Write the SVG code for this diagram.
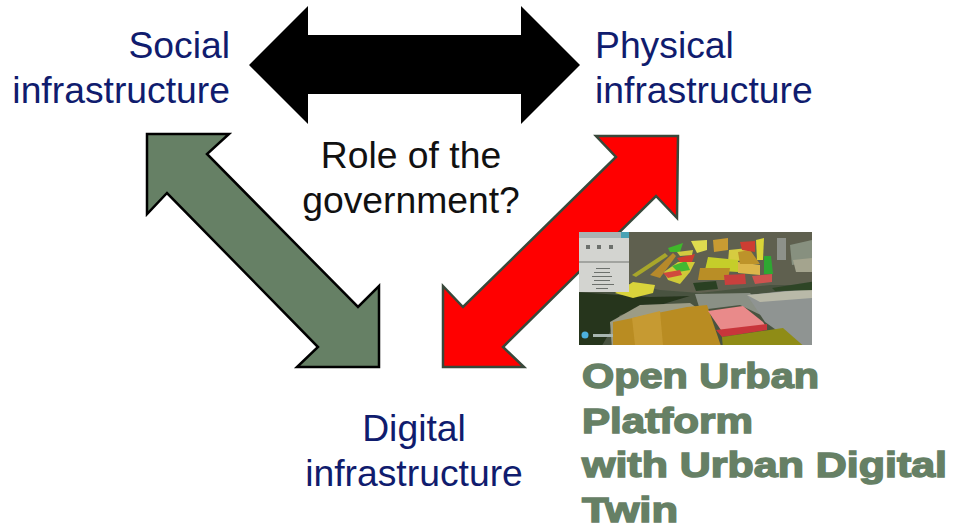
<svg xmlns="http://www.w3.org/2000/svg" width="957" height="529" viewBox="0 0 957 529">
<style>
.l{font-family:"Liberation Sans",Arial,sans-serif;font-size:37.3px}
.b{fill:#101c6e}
.k{fill:#111}
.g{font-family:"Liberation Sans",Arial,sans-serif;font-weight:700;font-size:35.5px;fill:#668065;stroke:#668065;stroke-width:1.5px}
</style>
<defs>
<filter id="soft" x="-5%" y="-5%" width="110%" height="110%"><feGaussianBlur stdDeviation="0.7"/></filter>
<clipPath id="pic"><rect x="579" y="232" width="233" height="113"/></clipPath>
</defs>
<rect width="957" height="529" fill="#fff"/>
<g id="connectors">
<polygon id="arrow-top" fill="#000" points="249,65 308,6 308,35 521,35 521,6 580,65 521,124 521,94 308,94 308,124"/>
<polygon id="arrow-left" fill="#668065" stroke="#000" stroke-width="2.5" points="147,134 229,134 207,154 358,307 379,286 379,367 297,367 318,347 167,193 147,214"/>
<polygon id="arrow-right" fill="#f00" stroke="#38483a" stroke-width="2.5" points="678,136 596,136 616,157 463,307 443,286 443,367 524,367 503,347 656,196 677,218"/>
</g>
<g id="node-social"><text class="l b" x="230" y="58" text-anchor="end">Social</text><text class="l b" x="230" y="103" text-anchor="end">infrastructure</text></g>
<g id="node-physical"><text class="l b" x="595" y="58">Physical</text><text class="l b" x="595" y="103">infrastructure</text></g>
<g id="node-role"><text class="l k" x="411" y="168" text-anchor="middle">Role of the</text><text class="l k" x="411" y="213" text-anchor="middle">government?</text></g>
<g id="node-digital"><text class="l b" x="414" y="441" text-anchor="middle">Digital</text><text class="l b" x="414" y="486" text-anchor="middle">infrastructure</text></g>
<g id="node-platform-image" clip-path="url(#pic)">
<g filter="url(#soft)">
<rect x="575" y="228" width="241" height="121" fill="#4a5340"/>
<polygon points="625,228 816,228 816,285 770,285 700,293 660,290 625,282" fill="#5e6150"/>
<polygon points="575,292 650,297 690,296 660,305 620,315 600,349 575,349" fill="#27351f"/>
<polygon points="695,294 750,293 775,322 740,305 700,310" fill="#8a9085"/>
<polygon points="747,295 816,288 816,349 803,349 765,322" fill="#8f9492"/>
<polygon points="747,295 812,289 812,298 760,302" fill="#b9b9a8"/>
<polygon points="772,288 816,281 816,290 775,291" fill="#2f4428"/>
<polygon points="693,283 716,281 718,289 696,291" fill="#2b4124"/>
<polygon points="610,322 640,305 690,303 700,310 612,349" fill="#9c9c86"/>
<rect x="777" y="238" width="9" height="22" fill="#8d918a"/>
<polygon points="790,245 812,240 812,262 792,265" fill="#87907f"/>
<polygon points="793,260 812,258 812,272 796,272" fill="#a4a48e"/>
<polygon points="613,322 687,307 707,305 722,349 613,349" fill="#b98c22"/>
<polygon points="632,318 660,311 663,345 635,345" fill="#c69a32"/>
<polygon points="708,311 743,306 763,322 767,328 723,333" fill="#e98a8a"/>
<polygon points="716,330 767,324 767,330 722,337" fill="#c8363a"/>
<polygon points="722,337 783,328 807,349 723,349" fill="#8f8c17"/>
<polygon points="615,293 633,282 655,285 653,293 633,298" fill="#d9d43a"/>
<polygon points="632,275 665,253 668,256 636,277" fill="#a8a62c"/>
<polygon points="650,275 673,253 676,256 660,278" fill="#b6892a"/>
<polygon points="664,272 678,262 695,262 690,272 680,284 668,280" fill="#cfc938"/>
<polygon points="672,266 686,261 690,270 678,272" fill="#43b830"/>
<polygon points="663,273 680,270 682,275 668,278" fill="#d14a3c"/>
<polygon points="677,258 695,254 692,262 680,262" fill="#cf3d2f"/>
<polygon points="668,248 683,243 680,252 670,252" fill="#3fb82c"/>
<polygon points="677,252 693,250 692,255 680,256" fill="#d2cc40"/>
<polygon points="691,241 707,240 707,250 697,253" fill="#dedc50"/>
<polygon points="713,240 728,238 728,250 714,252" fill="#c99b33"/>
<polygon points="729,250 748,248 745,260 728,262" fill="#d6cc40"/>
<polygon points="708,257 738,260 738,272 705,270" fill="#c5ce2c"/>
<polygon points="700,268 730,268 728,280 698,280" fill="#b98e28"/>
<polygon points="738,262 760,265 760,275 738,273" fill="#dcb64c"/>
<polygon points="738,252 750,250 760,264 740,264" fill="#bd932a"/>
<polygon points="740,242 755,241 755,252 742,250" fill="#cd3c30"/>
<polygon points="756,240 764,238 763,260 757,260" fill="#d9d438"/>
<polygon points="764,256 771,256 773,274 764,274" fill="#2fa833"/>
<polygon points="724,275 745,274 746,284 725,285" fill="#c83f3c"/>
<polygon points="752,276 772,274 772,282 755,284" fill="#cf5250"/>
<rect x="579" y="232" width="50" height="60" fill="#d3d4d0"/>
<rect x="579" y="232" width="50" height="6" fill="#a9b3b3"/>
<rect x="621" y="232" width="8" height="6" fill="#4aa3b5"/>
<rect x="579" y="261" width="50" height="2" fill="#a2a4a0"/>
<g fill="#6c6f6c">
<rect x="586" y="245" width="4" height="4"/><rect x="597" y="245" width="4" height="4"/><rect x="609" y="245" width="4" height="4"/>
<rect x="596" y="268" width="14" height="1"/><rect x="594" y="272" width="16" height="1"/><rect x="592" y="276" width="20" height="1"/><rect x="594" y="280" width="16" height="1"/><rect x="592" y="284" width="22" height="1"/><rect x="596" y="288" width="12" height="1"/>
</g>
<circle cx="585" cy="335" r="3.5" fill="#4db0de"/>
<rect x="593" y="334" width="20" height="3" fill="#a8b6b0"/>
</g>
</g>
<g id="node-platform-label">
<text class="g" x="582" y="388" textLength="237" lengthAdjust="spacingAndGlyphs">Open Urban</text>
<text class="g" x="582" y="433" textLength="171" lengthAdjust="spacingAndGlyphs">Platform</text>
<text class="g" x="582" y="477" textLength="365" lengthAdjust="spacingAndGlyphs">with Urban Digital</text>
<text class="g" x="582" y="522" textLength="96" lengthAdjust="spacingAndGlyphs">Twin</text>
</g>
</svg>
